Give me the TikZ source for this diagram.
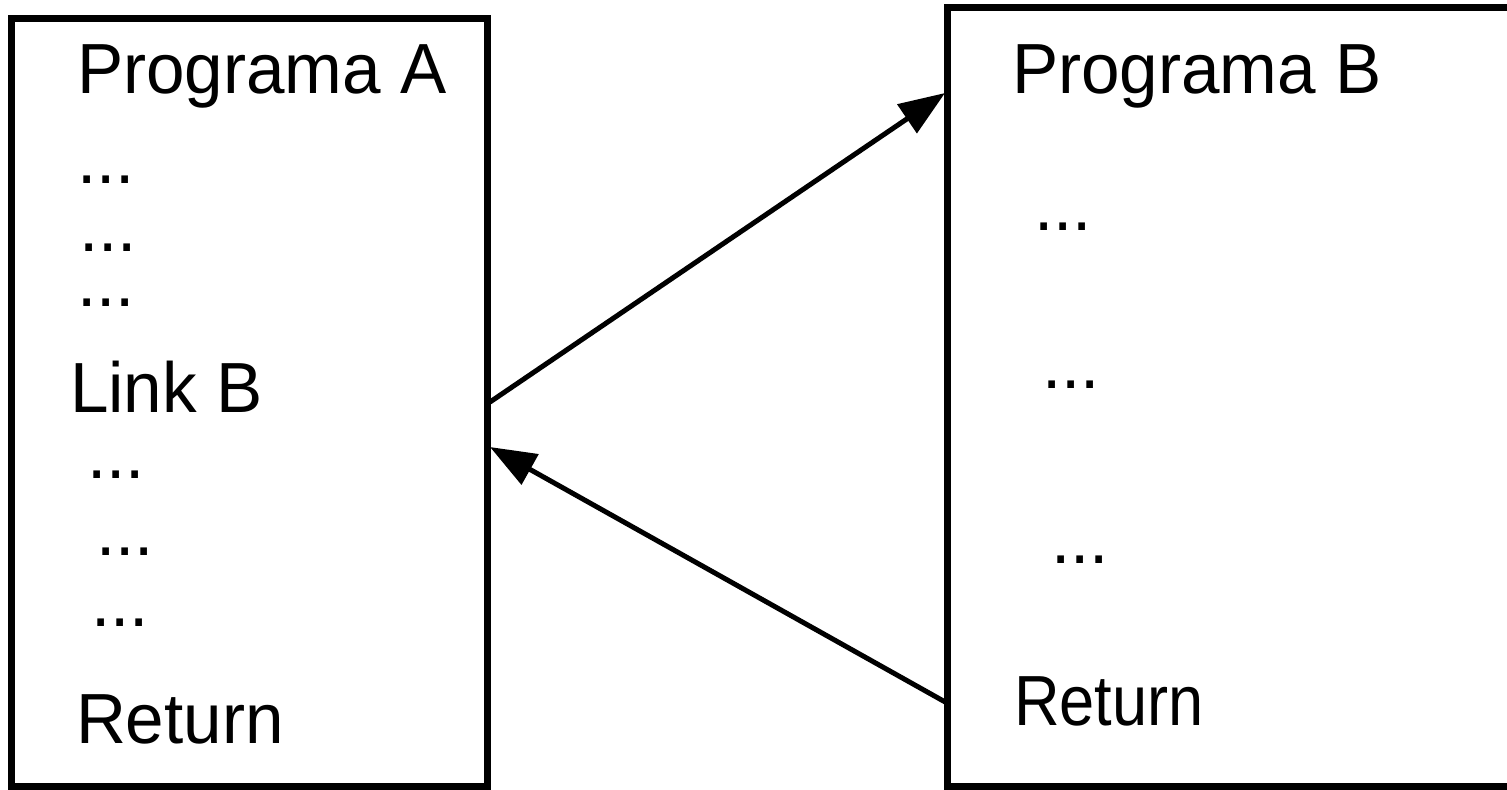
\documentclass[tikz,border=0pt]{standalone}
\usepackage{fontspec}
\setmainfont{Liberation Sans}[FakeStretch=0.975]
\newfontfamily\narrowret{Liberation Sans}[FakeStretch=0.89]
\usetikzlibrary{arrows.meta}
\tikzset{
  box/.style={draw=black, line width=3.5pt, fill=white, rectangle, inner sep=0pt},
  txt/.style={anchor=base west, inner sep=0pt, outer sep=0pt, text=black, font=\fontsize{35.5pt}{40pt}\selectfont},
  dots/.style={txt, text height=4pt, text depth=0pt},
  arr/.style={line width=2.5pt, -{Triangle[length=23pt,width=17pt]}}
}
\begin{document}
\begin{tikzpicture}[x=0.5pt, y=-0.5pt]
\useasboundingbox (0,0) rectangle (1507,789);
\fill[white] (0,0) rectangle (1507,789);
\clip (0,0) rectangle (1507,789);
% boxes
\node[box, minimum width=238pt, minimum height=384pt] (A) at (249,402) {};
\node[box, minimum width=285pt, minimum height=389.5pt] (B) at (1232,396.5) {};
% left box texts
\node[txt] (a1) at (77,93) {Programa A};
\node[dots] (a2) at (77,183) {...};
\node[dots] (a3) at (79,251) {...};
\node[dots] (a4) at (77,306) {...};
\node[txt] (a5) at (70,412) {Link B};
\node[dots] (a6) at (87,478) {...};
\node[dots] (a7) at (96,555) {...};
\node[dots] (a8) at (91,626) {...};
\node[txt] (a9) at (76,743) {Return};
% right box texts
\node[txt] (b1) at (1012,93) {Programa B};
\node[dots] (b2) at (1034,230) {...};
\node[dots] (b3) at (1042,388) {...};
\node[dots] (b4) at (1051,563) {...};
\node[txt, font=\narrowret\fontsize{35.5pt}{40pt}\selectfont] (b5) at (1014,725) {Return};
% connector end points on box borders
\coordinate (aOut) at (490,402);
\coordinate (bIn) at (945,93);
\coordinate (bOut) at (947,703);
\coordinate (aIn) at (490,447);
\draw[arr] (aOut) -- (bIn);
\draw[arr] (bOut) -- (aIn);
\end{tikzpicture}
\end{document}
